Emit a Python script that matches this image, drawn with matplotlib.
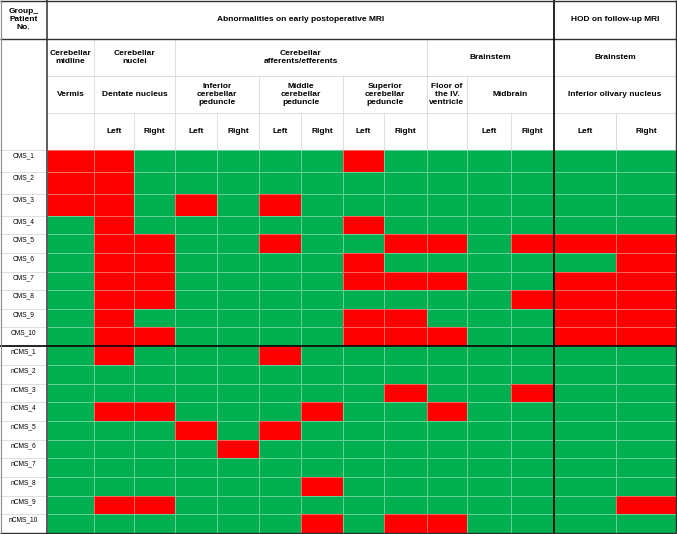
import numpy as np
import matplotlib
matplotlib.use("Agg")
import matplotlib.pyplot as plt
from matplotlib.colors import ListedColormap

plt.rcParams['font.family'] = ['Liberation Sans', 'DejaVu Sans']

# patients (rows) and findings (columns); 1 = abnormal (red), 0 = normal (green)
patients = ['CMS_%d' % i for i in range(1, 11)] + ['nCMS_%d' % i for i in range(1, 11)]

# columns: Vermis, DN L, DN R, ICP L, ICP R, MCP L, MCP R, SCP L, SCP R,
#          Floor IV, Midbrain L, Midbrain R, ION L, ION R
findings = [
    [1, 1, 0, 0, 0, 0, 0, 1, 0, 0, 0, 0, 0, 0],  # CMS_1
    [1, 1, 0, 0, 0, 0, 0, 0, 0, 0, 0, 0, 0, 0],  # CMS_2
    [1, 1, 0, 1, 0, 1, 0, 0, 0, 0, 0, 0, 0, 0],  # CMS_3
    [0, 1, 0, 0, 0, 0, 0, 1, 0, 0, 0, 0, 0, 0],  # CMS_4
    [0, 1, 1, 0, 0, 1, 0, 0, 1, 1, 0, 1, 1, 1],  # CMS_5
    [0, 1, 1, 0, 0, 0, 0, 1, 0, 0, 0, 0, 0, 1],  # CMS_6
    [0, 1, 1, 0, 0, 0, 0, 1, 1, 1, 0, 0, 1, 1],  # CMS_7
    [0, 1, 1, 0, 0, 0, 0, 0, 0, 0, 0, 1, 1, 1],  # CMS_8
    [0, 1, 0, 0, 0, 0, 0, 1, 1, 0, 0, 0, 1, 1],  # CMS_9
    [0, 1, 1, 0, 0, 0, 0, 1, 1, 1, 0, 0, 1, 1],  # CMS_10
    [0, 1, 0, 0, 0, 1, 0, 0, 0, 0, 0, 0, 0, 0],  # nCMS_1
    [0, 0, 0, 0, 0, 0, 0, 0, 0, 0, 0, 0, 0, 0],  # nCMS_2
    [0, 0, 0, 0, 0, 0, 0, 0, 1, 0, 0, 1, 0, 0],  # nCMS_3
    [0, 1, 1, 0, 0, 0, 1, 0, 0, 1, 0, 0, 0, 0],  # nCMS_4
    [0, 0, 0, 1, 0, 1, 0, 0, 0, 0, 0, 0, 0, 0],  # nCMS_5
    [0, 0, 0, 0, 1, 0, 0, 0, 0, 0, 0, 0, 0, 0],  # nCMS_6
    [0, 0, 0, 0, 0, 0, 0, 0, 0, 0, 0, 0, 0, 0],  # nCMS_7
    [0, 0, 0, 0, 0, 0, 1, 0, 0, 0, 0, 0, 0, 0],  # nCMS_8
    [0, 1, 1, 0, 0, 0, 0, 0, 0, 0, 0, 0, 0, 1],  # nCMS_9
    [0, 0, 0, 0, 0, 0, 1, 0, 1, 1, 0, 0, 0, 0],  # nCMS_10
]

top_title = 'Abnormalities on early postoperative MRI'
hod_title = 'HOD on follow-up MRI'
side = ['Left', 'Right']

# layout (pixel units)
W, H = 677, 534
col_edges = np.array([47, 94, 134, 175, 217, 259, 301, 343, 384, 427, 467, 511, 554, 616, 676])
row_edges = np.array([150, 172, 194, 216, 234, 253, 272, 290, 309, 327, 346,
                      365, 384, 402, 421, 440, 458, 477, 496, 514, 533])
hdr = [0, 39, 76, 113, 150]

GREEN = '#00B050'
RED = '#FF0000'
LIGHT = '#d9d9d9'

fig = plt.figure(figsize=(W / 100, H / 100), dpi=100)
ax = fig.add_axes([0, 0, 1, 1])
ax.set_xlim(0, W)
ax.set_ylim(H, 0)
ax.axis('off')

data = np.array(findings)
ax.pcolormesh(col_edges, row_edges, data, cmap=ListedColormap([GREEN, RED]),
              vmin=0, vmax=1, edgecolors=(1, 1, 1, 0.4), linewidth=0.6, zorder=1)

hfs = 6
bold = dict(ha='center', va='center', fontsize=hfs, fontweight='bold')


def cell_text(x0, x1, y0, y1, s, **kw):
    ax.text((x0 + x1) / 2, (y0 + y1) / 2, s, linespacing=1.15, **{**bold, **kw})


def vline(x, y0, y1, color=LIGHT, lw=0.6, z=2):
    ax.plot([x, x], [y0, y1], color=color, lw=lw, zorder=z, solid_capstyle='butt')


def hline(y, x0, x1, color=LIGHT, lw=0.6, z=2):
    ax.plot([x0, x1], [y, y], color=color, lw=lw, zorder=z, solid_capstyle='butt')


# header row 0
cell_text(0, 47, hdr[0], hdr[1], 'Group_\nPatient\nNo.')
cell_text(47, 554, hdr[0], hdr[1], top_title)
cell_text(554, 676, hdr[0], hdr[1], hod_title)

# header row 1
row1 = [(47, 94, 'Cerebellar\nmidline'), (94, 175, 'Cerebellar\nnuclei'),
        (175, 427, 'Cerebellar\nafferents/efferents'), (427, 554, 'Brainstem'),
        (554, 676, 'Brainstem')]
for x0, x1, s in row1:
    cell_text(x0, x1, hdr[1], hdr[2], s)
for x in [94, 175, 427]:
    vline(x, hdr[1], hdr[2])

# header row 2
row2 = [(47, 94, 'Vermis'), (94, 175, 'Dentate nucleus'),
        (175, 259, 'Inferior\ncerebellar\npeduncle'), (259, 343, 'Middle\ncerebellar\npeduncle'),
        (343, 427, 'Superior\ncerebellar\npeduncle'), (427, 467, 'Floor of\nthe IV.\nventricle'),
        (467, 554, 'Midbrain'), (554, 676, 'Inferior olivary nucleus')]
for x0, x1, s in row2:
    cell_text(x0, x1, hdr[2], hdr[3], s)
for x in [94, 175, 259, 343, 427, 467]:
    vline(x, hdr[2], hdr[3])

# header row 3: Left / Right
lr_pairs = [1, 3, 5, 7, 10, 12]
for k in lr_pairs:
    for j in range(2):
        cell_text(col_edges[k + j], col_edges[k + j + 1], hdr[3], hdr[4], side[j])
for x in col_edges[1:-1]:
    if x != 554:
        vline(x, hdr[3], hdr[4])
vline(616, hdr[3], hdr[4])

for y in [hdr[2], hdr[3]]:
    hline(y, 47, 676)

# patient labels
for i, p in enumerate(patients):
    ax.text(23.5, row_edges[i] + 2.5, p, ha='center', va='top', fontsize=4.8)
for y in row_edges[1:-1]:
    hline(y, 0, 47)
hline(150, 0, 47)

# strong separators
DARK = '#5a5a5a'
vline(47, 0, 533, color=DARK, lw=1.4, z=4)
hline(39, 0, 676, color='#303030', lw=1.0, z=4)
vline(554, 0, 533, color='black', lw=1.2, z=4)
hline(346, 0, 676, color='black', lw=1.2, z=4)

# outer border
hline(0.5, 0, 676, color='#303030', lw=1.0, z=4)
hline(533, 0, 676, color='#303030', lw=1.0, z=4)
vline(0.5, 0, 533, color='#8a8a8a', lw=0.8, z=4)
vline(676, 0, 533, color='#303030', lw=1.0, z=4)

fig.savefig('out.png', dpi=100)
